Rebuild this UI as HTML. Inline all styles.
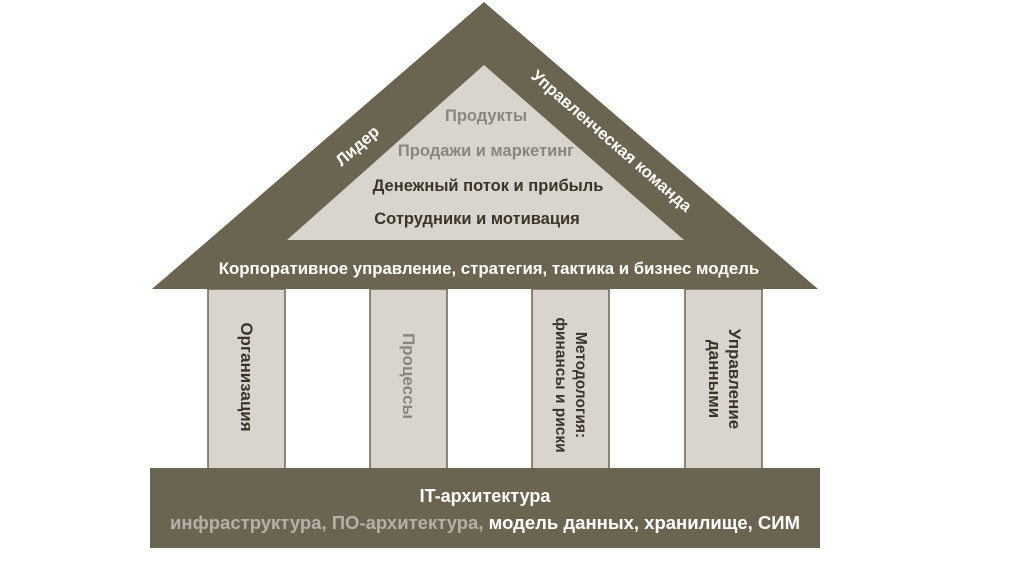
<!DOCTYPE html>
<html><head><meta charset="utf-8"><style>body{margin:0;background:#fff}svg{display:block}</style></head>
<body>
<svg width="1024" height="576" viewBox="0 0 1024 576" font-family="'Liberation Sans', sans-serif" font-weight="bold">
<polygon points="484,2 152,289 818,289" fill="#6b6450"/>
<polygon points="484,65 287,240 684,240" fill="#d9d5ce"/>
<g fill="#d9d5ce" stroke="#6b6450" stroke-width="1.5">
<rect x="208" y="289" width="77" height="180"/>
<rect x="370" y="289" width="77" height="180"/>
<rect x="532" y="289" width="77" height="180"/>
<rect x="685" y="289" width="77" height="180"/>
</g>
<rect x="150" y="468" width="670" height="80" fill="#6b6450"/>
<g text-anchor="middle" font-size="16.5">
<text x="486" y="121" fill="#8a857e">Продукты</text>
<text x="486" y="156" fill="#8a857e">Продажи и маркетинг</text>
<text x="488" y="191" fill="#3a3528">Денежный поток и прибыль</text>
<text x="477" y="224" fill="#3a3528">Сотрудники и мотивация</text>
<text x="489" y="274" fill="#fff" font-size="16.8">Корпоративное управление, стратегия, тактика и бизнес модель</text>
<text x="361" y="150" fill="#fff" transform="rotate(-41 361 150)">Лидер</text>
<text x="608" y="145" fill="#fff" transform="rotate(41 608 145)">Управленческая команда</text>
<text x="485" y="502" fill="#fff" font-size="18">IT-архитектура</text>
<text x="485" y="529" font-size="18.5"><tspan fill="#b5b0a8">инфраструктура, ПО-архитектура, </tspan><tspan fill="#fff">модель данных, хранилище, СИМ</tspan></text>
<g font-size="17">
<text fill="#3a3528" transform="translate(241 377) rotate(90)">Организация</text>
<text fill="#8a857e" transform="translate(403 376) rotate(90)">Процессы</text>
<text fill="#3a3528" font-size="15.5" transform="translate(576 385) rotate(90)">Методология:</text>
<text fill="#3a3528" font-size="15.5" transform="translate(556 385) rotate(90)">финансы и риски</text>
<text fill="#3a3528" transform="translate(729 379) rotate(90)">Управление</text>
<text fill="#3a3528" transform="translate(709 379) rotate(90)">данными</text>
</g>
</g>
</svg>
</body></html>
